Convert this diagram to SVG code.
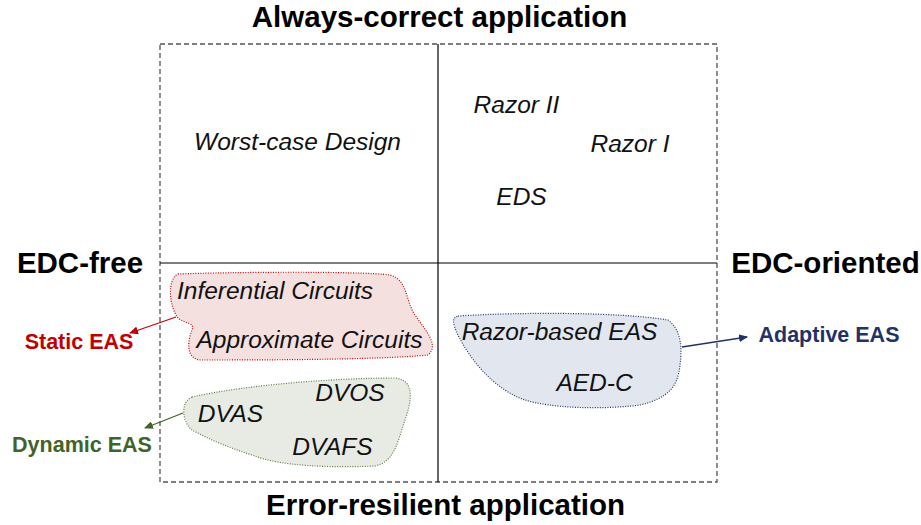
<svg xmlns="http://www.w3.org/2000/svg" width="921" height="525" viewBox="0 0 921 525">
<style>
.t{font-family:"Liberation Sans",Arial,sans-serif;font-weight:bold;font-size:29.5px;fill:#000}
.i{font-family:"Liberation Sans",Arial,sans-serif;font-style:italic;font-size:24.5px;fill:#111}
.s{font-family:"Liberation Sans",Arial,sans-serif;font-weight:bold;font-size:21.5px}
.ax{stroke:#000;stroke-width:1.2;fill:none}
</style>
<defs>
<marker id="mr" markerWidth="9" markerHeight="8" refX="8" refY="4" orient="auto" markerUnits="userSpaceOnUse"><path d="M0,0 L9,4 L0,8 z" fill="#c00000"/></marker>
<marker id="mg" markerWidth="9" markerHeight="8" refX="8" refY="4" orient="auto" markerUnits="userSpaceOnUse"><path d="M0,0 L9,4 L0,8 z" fill="#3f6426"/></marker>
<marker id="mb" markerWidth="9" markerHeight="8" refX="8" refY="4" orient="auto" markerUnits="userSpaceOnUse"><path d="M0,0 L9,4 L0,8 z" fill="#1f3366"/></marker>
</defs>
<g id="frame">
<rect x="160" y="44" width="557" height="438" fill="none" stroke="#555" stroke-width="1.3" stroke-dasharray="5,3"/>
<line class="ax" x1="438" y1="44" x2="438" y2="482"/>
<line class="ax" x1="160" y1="263" x2="717" y2="263"/>
</g>
<g id="axis-labels">
<text class="t" x="439.5" y="27" text-anchor="middle">Always-correct application</text>
<text class="t" x="445.5" y="515" text-anchor="middle">Error-resilient application</text>
<text class="t" x="80" y="273" text-anchor="middle" font-size="30.5">EDC-free</text>
<text class="t" x="825.5" y="273" text-anchor="middle" font-size="30.5">EDC-oriented</text>
</g>
<g id="quadrant-labels">
<text class="i" x="297.5" y="150" text-anchor="middle">Worst-case Design</text>
<text class="i" x="516.5" y="113" text-anchor="middle">Razor II</text>
<text class="i" x="630" y="152" text-anchor="middle">Razor I</text>
<text class="i" x="521.5" y="205" text-anchor="middle">EDS</text>
</g>
<g id="static-eas">
<path d="M178,274 C230,272 360,271 390,275 C408,280 405,300 415,315 C425,330 440,345 428,355 C380,360 250,360 200,360 C185,358 188,340 192,330 C195,322 185,324 178,318 C170,308 166,280 178,274 Z" fill="#f5e0e0" stroke="#c00000" stroke-width="1.2" stroke-dasharray="1,1.5"/>
<text class="i" x="275" y="299" text-anchor="middle">Inferential Circuits</text>
<text class="i" x="309.5" y="348" text-anchor="middle">Approximate Circuits</text>
</g>
<g id="dynamic-eas">
<path d="M192,397 C250,384 340,378 395,378 C415,380 412,400 405,420 C398,440 395,462 375,466 C330,468 280,466 255,456 C230,448 210,440 192,430 C182,422 180,402 192,397 Z" fill="#e8ebe4" stroke="#5a7a40" stroke-width="1.2" stroke-dasharray="1,1.5"/>
<text class="i" x="350" y="401" text-anchor="middle">DVOS</text>
<text class="i" x="230.5" y="422" text-anchor="middle">DVAS</text>
<text class="i" x="332.5" y="455" text-anchor="middle">DVAFS</text>
</g>
<g id="adaptive-eas">
<path d="M458,316 C520,312 620,312 668,320 C682,330 682,350 680,365 C678,385 670,398 640,405 C600,410 550,408 525,400 C495,390 470,360 458,335 C452,322 452,318 458,316 Z" fill="#e2e6ef" stroke="#1f3366" stroke-width="1.2" stroke-dasharray="1,1.5"/>
<text class="i" x="559.5" y="340" text-anchor="middle">Razor-based EAS</text>
<text class="i" x="594.5" y="391" text-anchor="middle">AED-C</text>
</g>
<g id="category-labels">
<text class="s" x="79" y="349" text-anchor="middle" fill="#c00000">Static EAS</text>
<text class="s" x="82" y="452" text-anchor="middle" fill="#3f6426">Dynamic EAS</text>
<text class="s" x="829" y="342" text-anchor="middle" fill="#1f3366">Adaptive EAS</text>
</g>
<g id="connectors">
<line x1="176" y1="317" x2="130" y2="333" stroke="#c00000" stroke-width="1.3" marker-end="url(#mr)"/>
<line x1="183" y1="413" x2="145" y2="428" stroke="#3f6426" stroke-width="1.3" marker-end="url(#mg)"/>
<line x1="682" y1="347" x2="747" y2="337" stroke="#1f3366" stroke-width="1.3" marker-end="url(#mb)"/>
</g>
</svg>
